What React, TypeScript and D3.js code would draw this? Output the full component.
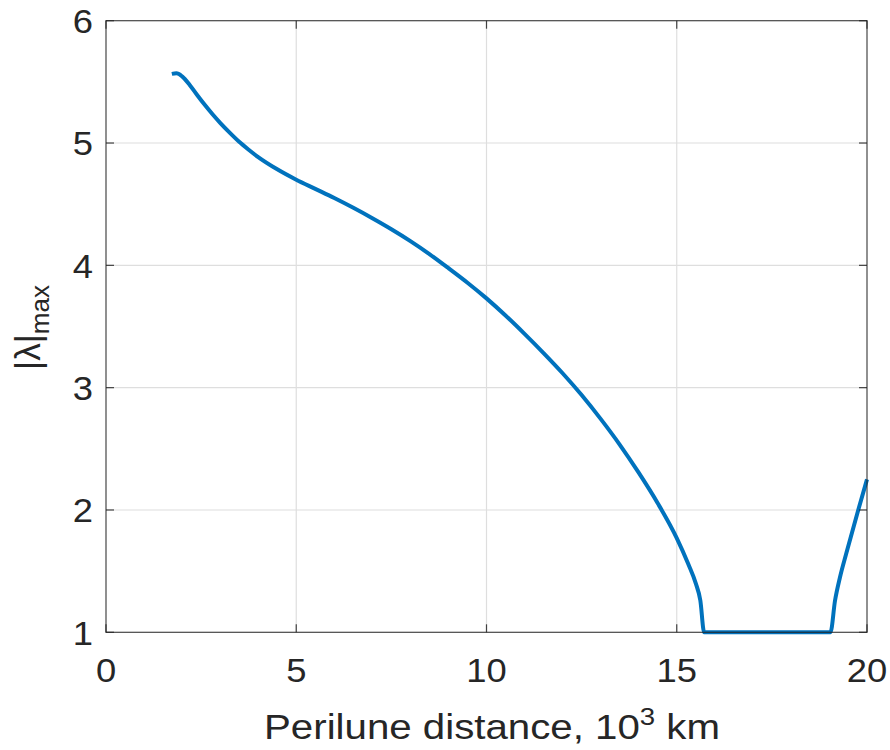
import React from "react";
import * as d3 from "d3";

const xValues = [1.73, 1.85, 2.0, 2.2, 2.4, 2.6, 2.8, 3.0, 3.25, 3.5, 3.75, 4.0, 4.5, 5.0, 5.5, 6.0, 6.5, 7.0, 7.5, 8.0, 8.5, 9.0, 9.5, 10.0, 10.5, 11.0, 11.5, 12.0, 12.5, 13.0, 13.5, 14.0, 14.5, 15.0, 15.3, 15.5, 15.62, 15.72, 19.04, 19.16, 19.29, 19.46, 19.77, 20.0];
const yValues = [5.565, 5.57, 5.545, 5.475, 5.39, 5.31, 5.235, 5.165, 5.085, 5.01, 4.945, 4.885, 4.785, 4.7, 4.625, 4.55, 4.47, 4.385, 4.295, 4.198, 4.092, 3.977, 3.858, 3.73, 3.59, 3.44, 3.283, 3.118, 2.94, 2.745, 2.535, 2.305, 2.055, 1.77, 1.56, 1.4, 1.26, 1.0, 1.0, 1.26, 1.45, 1.65, 2.0, 2.25];
const xTicks = [0, 5, 10, 15, 20];
const yTicks = [1, 2, 3, 4, 5, 6];

const W = 890, H = 750;
const L = 106, R = 867, T = 20.7, B = 632.3;
const FONT = "'Liberation Sans', Arial, Helvetica, sans-serif";
const AX = "#262626";

export default function App() {
  const x = d3.scaleLinear().domain([0, 20]).range([L, R]);
  const y = d3.scaleLinear().domain([1, 6]).range([B, T]);
  const pts: [number, number][] = xValues.map((v, i) => [v, yValues[i]]);
  const line = d3.line<[number, number]>().x(d => x(d[0])).y(d => y(d[1])).curve(d3.curveMonotoneX);
  const tickLen = 8;
  return (
    <svg width={W} height={H} style={{ position: "absolute", left: 0, top: 0, background: "#fff" }} fontFamily={FONT}>
      <rect x={0} y={0} width={W} height={H} fill="#fff" />
      {xTicks.slice(1, -1).map(t => (
        <line key={"gx" + t} x1={x(t)} x2={x(t)} y1={T} y2={B} stroke="#dedede" strokeWidth={1.2} />
      ))}
      {yTicks.slice(1, -1).map(t => (
        <line key={"gy" + t} x1={L} x2={R} y1={y(t)} y2={y(t)} stroke="#dedede" strokeWidth={1.2} />
      ))}
      <path d={line(pts) || ""} fill="none" stroke="#0072BD" strokeWidth={4} strokeLinejoin="round" />
      <rect x={L} y={T} width={R - L} height={B - T} fill="none" stroke={AX} strokeWidth={1.2} opacity={0.85} />
      {xTicks.map(t => (
        <g key={"tx" + t}>
          <line x1={x(t)} x2={x(t)} y1={B} y2={B - tickLen} stroke={AX} strokeWidth={1.2} opacity={0.85} />
          <line x1={x(t)} x2={x(t)} y1={T} y2={T + tickLen} stroke={AX} strokeWidth={1.2} opacity={0.85} />
          <text transform={`translate(${x(t)},682) scale(1.07,1)`} textAnchor="middle" fontSize={34} fill={AX}>{t}</text>
        </g>
      ))}
      {yTicks.map(t => (
        <g key={"ty" + t}>
          <line x1={L} x2={L + tickLen} y1={y(t)} y2={y(t)} stroke={AX} strokeWidth={1.2} opacity={0.85} />
          <line x1={R} x2={R - tickLen} y1={y(t)} y2={y(t)} stroke={AX} strokeWidth={1.2} opacity={0.85} />
          <text transform={`translate(93,${y(t) + 12.3}) scale(1.07,1)`} textAnchor="end" fontSize={34} fill={AX}>{t}</text>
        </g>
      ))}
      <text transform="translate(492,739) scale(1.15,1)" textAnchor="middle" fontSize={35} fill={AX}>
        <tspan>Perilune distance, 10</tspan>
        <tspan fontSize={24} dy={-14}>3</tspan>
        <tspan dy={14}> km</tspan>
      </text>
      <text transform={`translate(40,327.5) rotate(-90)`} textAnchor="middle" fontSize={35} fill={AX}>
        <tspan>|λ|</tspan>
        <tspan fontSize={26} dy={9}>max</tspan>
      </text>
    </svg>
  );
}
